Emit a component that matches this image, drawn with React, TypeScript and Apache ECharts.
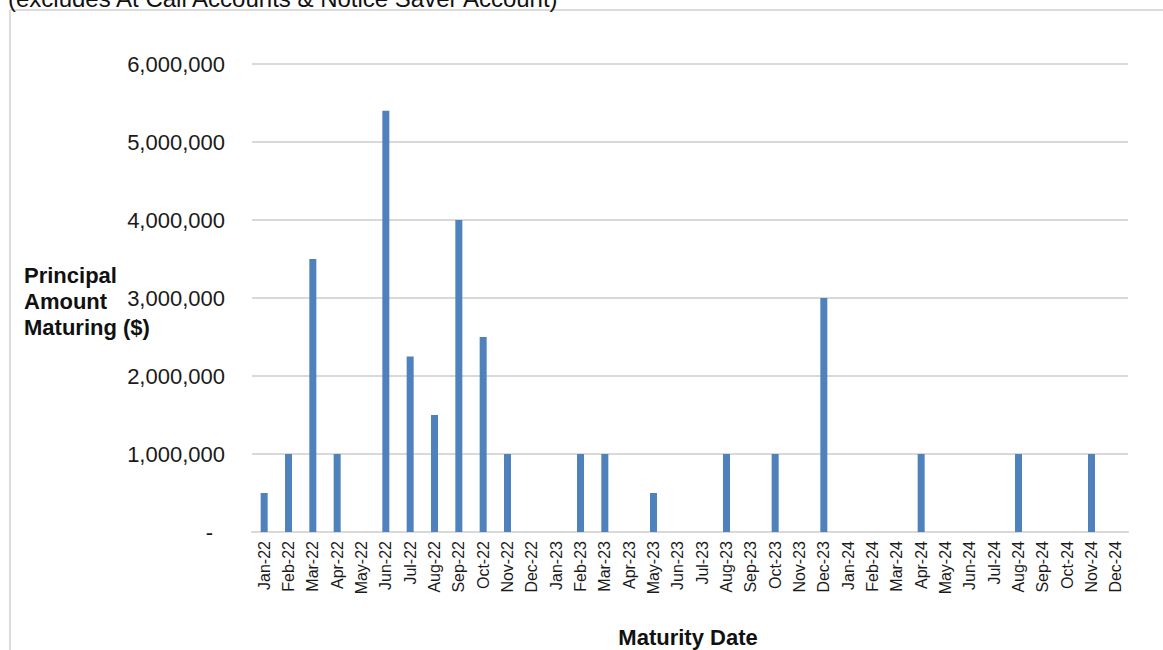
import React, { useEffect, useRef } from "react";
import * as echarts from "echarts";

const months = [
  "Jan-22", "Feb-22", "Mar-22", "Apr-22", "May-22", "Jun-22", "Jul-22", "Aug-22", "Sep-22", "Oct-22", "Nov-22", "Dec-22",
  "Jan-23", "Feb-23", "Mar-23", "Apr-23", "May-23", "Jun-23", "Jul-23", "Aug-23", "Sep-23", "Oct-23", "Nov-23", "Dec-23",
  "Jan-24", "Feb-24", "Mar-24", "Apr-24", "May-24", "Jun-24", "Jul-24", "Aug-24", "Sep-24", "Oct-24", "Nov-24", "Dec-24",
];

const principalMaturing = [
  500000, 1000000, 3500000, 1000000, 0, 5400000, 2250000, 1500000, 4000000, 2500000, 1000000, 0,
  0, 1000000, 1000000, 0, 500000, 0, 0, 1000000, 0, 1000000, 0, 3000000,
  0, 0, 0, 1000000, 0, 0, 0, 1000000, 0, 0, 1000000, 0,
];

const subtitle = "(excludes At Call Accounts & Notice Saver Account)";
const yAxisTitle = "Principal\nAmount\nMaturing ($)";
const xAxisTitle = "Maturity Date";

const FONT = "'Liberation Sans', Arial, Helvetica, sans-serif";

export default function App() {
  const ref = useRef<HTMLDivElement>(null);

  useEffect(() => {
    if (!ref.current) return;
    const chart = echarts.init(ref.current, undefined, { renderer: "svg" });
    chart.setOption({
      animation: false,
      backgroundColor: "#ffffff",
      textStyle: { fontFamily: FONT },
      grid: { left: 252, right: 35, top: 64, bottom: 118, containLabel: false },
      xAxis: {
        type: "category",
        data: months,
        axisLine: { show: true, lineStyle: { color: "#d9d9d9", width: 2 } },
        axisTick: { show: false },
        axisLabel: {
          rotate: 90,
          interval: 0,
          margin: 9,
          fontSize: 16,
          color: "#1a1a1a",
          fontFamily: FONT,
        },
      },
      yAxis: {
        type: "value",
        min: 0,
        max: 6000000,
        interval: 1000000,
        axisLine: { show: false },
        axisTick: { show: false },
        splitLine: { lineStyle: { color: "#d9d9d9", width: 2 } },
        axisLabel: {
          margin: 27,
          fontSize: 22,
          color: "#1a1a1a",
          fontFamily: FONT,
          formatter: (v: number) =>
            v === 0 ? "{z|-}" : v.toLocaleString("en-US"),
          rich: {
            z: { fontSize: 22, color: "#1a1a1a", padding: [0, 12, 0, 0], fontFamily: FONT },
          },
        },
      },
      series: [
        {
          type: "bar",
          data: principalMaturing,
          barWidth: 7,
          itemStyle: { color: "#4f81bd" },
        },
      ],
      graphic: [
        {
          type: "line",
          shape: { x1: 10, y1: 10, x2: 1163, y2: 10 },
          style: { stroke: "#dcdcdc", lineWidth: 2 },
        },
        {
          type: "line",
          shape: { x1: 10, y1: 10, x2: 10, y2: 650 },
          style: { stroke: "#dcdcdc", lineWidth: 2 },
        },
        {
          type: "text",
          x: 8,
          y: 10,
          style: {
            text: subtitle,
            font: `24px ${FONT}`,
            fill: "#111111",
            textVerticalAlign: "bottom",
          },
        },
        {
          type: "text",
          x: 24,
          y: 262,
          style: {
            text: yAxisTitle,
            font: `bold 22px ${FONT}`,
            lineHeight: 26,
            fill: "#111111",
            textVerticalAlign: "top",
          },
        },
        {
          type: "text",
          x: 688,
          y: 637,
          style: {
            text: xAxisTitle,
            font: `bold 22px ${FONT}`,
            fill: "#111111",
            textAlign: "center",
            textVerticalAlign: "middle",
          },
        },
      ],
    });
    return () => chart.dispose();
  }, []);

  return (
    <div
      ref={ref}
      style={{ position: "fixed", left: 0, top: 0, width: 1163, height: 650 }}
    />
  );
}
